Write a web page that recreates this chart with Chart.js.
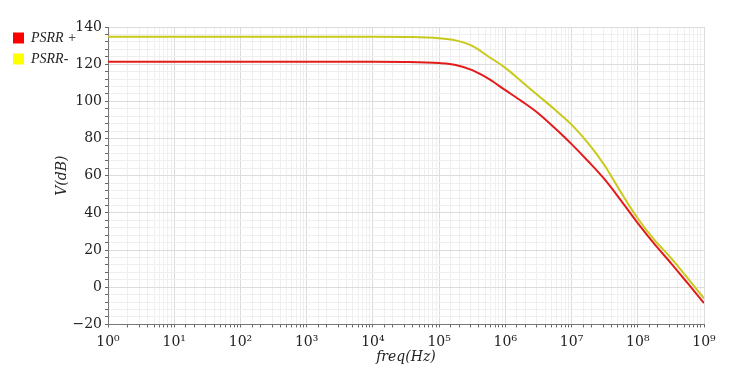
<!DOCTYPE html>
<html>
<head>
<meta charset="utf-8">
<script src="https://cdn.jsdelivr.net/npm/chart.js@4.4.1/dist/chart.umd.min.js"></script>
<style>
html, body { margin: 0; padding: 0; background: #fff; }
#wrap { width: 737px; height: 375px; position: relative; }
</style>
</head>
<body>
<div id="wrap"><canvas id="psrrChart"></canvas></div>
<script>
// frequency points (Hz), quarter decades where the curves bend
var freqHz = [1, 10, 100, 1000, 10000, 31623, 100000, 177828, 316228, 562341,
	1000000, 1778279, 3162278, 5623413, 10000000, 17782794, 31622777, 56234133,
	100000000, 177827941, 316227766, 562341325, 1000000000];

// PSRR+ (dB), red trace
var psrrPlus = [121.3, 121.3, 121.3, 121.3, 121.3, 121.2, 120.6, 119.6, 116.8, 112.1,
	106, 100, 93.5, 85.5, 77, 67.8, 58, 46.5, 34.5, 23.3, 13, 2.3, -8.5];

// PSRR- (dB), yellow trace
var psrrMinus = [134.7, 134.7, 134.7, 134.7, 134.7, 134.6, 134, 132.8, 129.8, 124,
	118, 110.5, 103, 95.5, 87.5, 77.5, 65.5, 50.8, 37, 25.5, 15.8, 5, -6];

var seriesNames = ["PSRR +", "PSRR-"];
var yTickLabels = [-20, 0, 20, 40, 60, 80, 100, 120, 140];
var supDigits = ["\u2070", "\u00b9", "\u00b2", "\u00b3", "\u2074", "\u2075", "\u2076", "\u2077", "\u2078", "\u2079"];

var toPoints = function(ys){
	var pts = [];
	for (var i = 0; i < freqHz.length; i++) {
		pts.push({x: freqHz[i], y: ys[i]});
	}
	return pts;
};

var isDecade = function(v){
	var e = Math.log10(v);
	return Math.abs(e - Math.round(e)) < 1e-6;
};

var serifFont = "'DejaVu Serif', 'Liberation Serif', serif";
var legendFont = "'Liberation Serif', 'DejaVu Serif', serif";
var legendBoxColors = ["#ff0000", "#ffff00"];

// legend sits in the top-left corner without pushing the plot to the right
var legendNoSpace = {
	id: "legendNoSpace",
	afterInit: function(c){
		var lg = c.legend;
		if (!lg) return;
		var fit = lg.fit, draw = lg.draw;
		lg.fit = function(){
			fit.call(this);
			this.width = 0;
		};
		lg.draw = function(){
			var r = this.right, t = this.top;
			this.right = this.left + 100;  // room for the clip
			this.top = t - 3;
			draw.call(this);
			this.right = r;
			this.top = t;
		};
	}
};

var ctx = document.getElementById("psrrChart").getContext("2d");
var chart = new Chart(ctx, {
	type: "scatter",
	plugins: [legendNoSpace],
	data: {
		datasets: [
			{
				label: seriesNames[0],
				data: toPoints(psrrPlus),
				showLine: true,
				borderColor: "#e21b1b",
				backgroundColor: "#ff0000",
				borderWidth: 2,
				pointRadius: 0,
				cubicInterpolationMode: "monotone"
			},
			{
				label: seriesNames[1],
				data: toPoints(psrrMinus),
				showLine: true,
				borderColor: "#c9c91c",
				backgroundColor: "#ffff00",
				borderWidth: 2,
				pointRadius: 0,
				cubicInterpolationMode: "monotone"
			}
		]
	},
	options: {
		responsive: true,
		maintainAspectRatio: false,
		animation: false,
		layout: { padding: { top: 27, right: 33, bottom: 4, left: 6 } },
		plugins: {
			tooltip: { enabled: false },
			legend: {
				position: "left",
				align: "start",
				labels: {
					boxWidth: 11,
					boxHeight: 11,
					padding: 7,
					color: "#222",
					font: { family: legendFont, size: 14, style: "italic" },
					generateLabels: function(c){
						return c.data.datasets.map(function(ds, i){
							return {
								text: ds.label,
								fillStyle: legendBoxColors[i],
								strokeStyle: legendBoxColors[i],
								lineWidth: 0,
								datasetIndex: i,
								fontColor: "#222"
							};
						});
					}
				}
			}
		},
		scales: {
			x: {
				type: "logarithmic",
				min: 1,
				max: 1000000000,
				border: { display: true, color: "#777" },
				grid: {
					color: function(c){ return (c.tick && isDecade(c.tick.value)) ? "#dcdcdc" : "#efefef"; },
					tickColor: "#666",
					tickLength: 3
				},
				ticks: {
					autoSkip: false,
					maxRotation: 0,
					color: "#222",
					padding: 7,
					font: { family: serifFont, size: 14 },
					callback: function(v){
						if (!isDecade(v)) return "";
						var e = Math.round(Math.log10(v));
						return "10" + supDigits[e];
					}
				},
				title: {
					display: true,
					text: "freq(Hz)",
					color: "#222",
					padding: { top: -9, bottom: 5 },
					font: { family: serifFont, size: 14, style: "italic" }
				}
			},
			y: {
				min: -20,
				max: 140,
				afterFit: function(scale){ scale.width = 102; },
				border: { display: true, color: "#777" },
				grid: {
					color: function(c){ return (c.tick && yTickLabels.indexOf(c.tick.value) >= 0) ? "#dcdcdc" : "#efefef"; },
					tickColor: "#666",
					tickLength: 3
				},
				ticks: {
					stepSize: 4,
					autoSkip: false,
					color: "#222",
					padding: 3,
					font: { family: serifFont, size: 14 },
					callback: function(v){
						return yTickLabels.indexOf(v) >= 0 ? String(v).replace("-", "\u2212") : "";
					}
				},
				title: {
					display: true,
					text: "V(dB)",
					color: "#222",
					padding: { top: 48, bottom: 0 },
					font: { family: serifFont, size: 14, style: "italic" }
				}
			}
		}
	}
});
</script>
</body>
</html>
